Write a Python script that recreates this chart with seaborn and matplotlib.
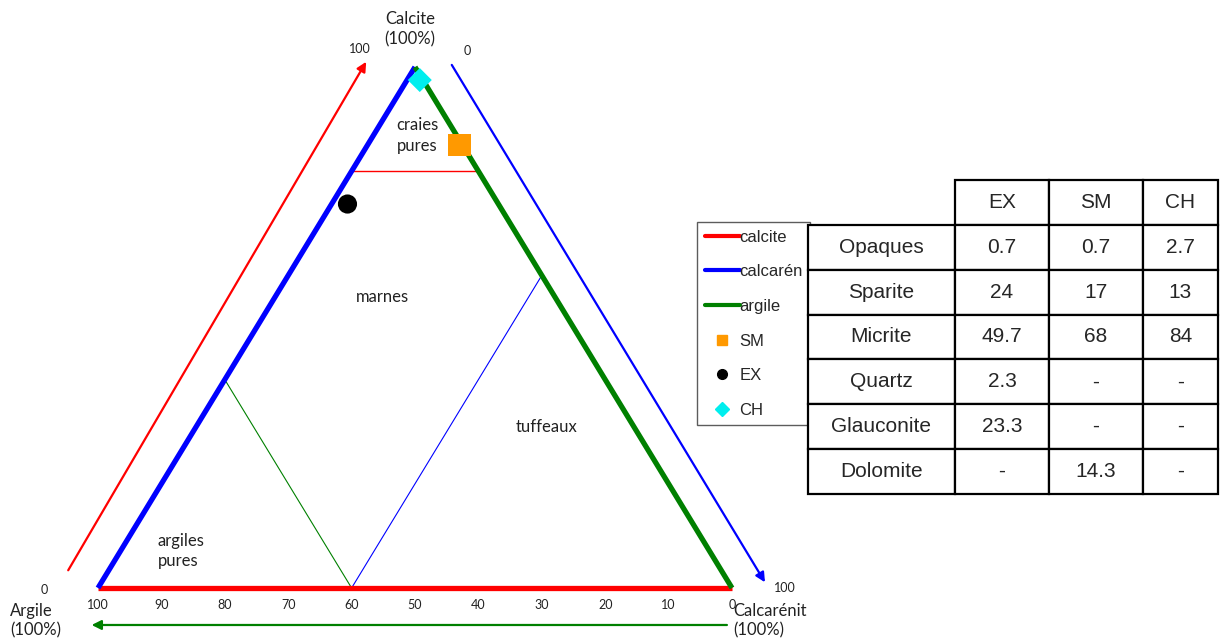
import matplotlib
matplotlib.use("Agg")
import matplotlib.pyplot as plt
from matplotlib.lines import Line2D
from matplotlib.table import Table
import seaborn as sns
import pandas as pd

# ---------------- data ----------------
samples = ["SM", "EX", "CH"]
sample_calcite = [85.0, 73.7, 97.5]       # % calcite
sample_calcarenite = [14.5, 2.5, 2.0]     # % calcarénite
sample_colors = ["#FF9900", "#000000", "#00EEEE"]
sample_markers = ["s", "o", "D"]
sample_sizes = [260, 190, 150]

edge_names = ["calcite", "calcarén", "argile"]
edge_colors = ["#FF0000", "#0000FF", "#008000"]

argile_ticks = [100, 90, 80, 70, 60, 50, 40, 30, 20, 10, 0]

limit_calcite = 80       # craies pures limit
limit_argile = 60        # green limit line
limit_calcarenite = 40   # blue limit line

table_cols = ["EX", "SM", "CH"]
table_rows = ["Opaques", "Sparite", "Micrite", "Quartz", "Glauconite", "Dolomite"]
col_EX = ["0.7", "24", "49.7", "2.3", "23.3", "-"]
col_SM = ["0.7", "17", "68", "-", "-", "14.3"]
col_CH = ["2.7", "13", "84", "-", "-", "-"]

# ---------------- helpers ----------------
def tern(calcite, calcarenite):
    """cartesian position: x = calcarénite + calcite/2, y = calcite"""
    return calcarenite + calcite / 2.0, calcite

sns.set_theme(style="white")
plt.rcParams["font.family"] = ["Lato", "DejaVu Sans"]

fig = plt.figure(figsize=(12.2, 6.43), dpi=100)
ax = fig.add_axes([0, 0, 1, 1])

# triangle vertices
A = tern(0, 0)      # argile 100%
C = tern(0, 100)    # calcarénite 100%
T = tern(100, 0)    # calcite 100%

# thick edges
ax.plot([A[0], C[0]], [A[1], C[1]], color=edge_colors[0], lw=3.8, solid_capstyle="butt", zorder=3)
ax.plot([A[0], T[0]], [A[1], T[1]], color=edge_colors[1], lw=3.8, solid_capstyle="butt", zorder=3)
ax.plot([T[0], C[0]], [T[1], C[1]], color=edge_colors[2], lw=3.8, solid_capstyle="butt", zorder=3)

# internal limit lines
p1 = tern(limit_calcite, 0)
p2 = tern(limit_calcite, 100 - limit_calcite)
ax.plot([p1[0], p2[0]], [p1[1], p2[1]], color="#FF0000", lw=1.0, zorder=2)
q1 = tern(100 - limit_argile, 0)
q2 = tern(0, 100 - limit_argile)
ax.plot([q1[0], q2[0]], [q1[1], q2[1]], color="#008000", lw=0.8, zorder=2)
r1 = tern(0, limit_calcarenite)
r2 = tern(100 - limit_calcarenite, limit_calcarenite)
ax.plot([r1[0], r2[0]], [r1[1], r2[1]], color="#0000FF", lw=0.8, zorder=2)

# arrows outside the triangle
arrow_kw = dict(arrowstyle="-|>", lw=1.6, mutation_scale=14, shrinkA=0, shrinkB=0)
ax.annotate("", xy=(42.3, 101.0), xytext=(-4.7, 3.4),
            arrowprops=dict(color="#FF0000", **arrow_kw))
ax.annotate("", xy=(105.2, 1.1), xytext=(55.8, 100.4),
            arrowprops=dict(color="#0000FF", **arrow_kw))
ax.annotate("", xy=(-1.0, -7.1), xytext=(99.2, -7.1),
            arrowprops=dict(color="#008000", **arrow_kw))

# sample points via seaborn
df = pd.DataFrame({"sample": samples,
                   "x": [tern(c, k)[0] for c, k in zip(sample_calcite, sample_calcarenite)],
                   "y": sample_calcite})
for s, col, mk, sz in zip(samples, sample_colors, sample_markers, sample_sizes):
    sns.scatterplot(data=df[df["sample"] == s], x="x", y="y", color=col, marker=mk,
                    s=sz, edgecolor="none", ax=ax, zorder=5, legend=False)
ax.set_xlim(-15.457, 176.97)
ax.set_ylim(-10.557, 112.86)
ax.axis("off")

# bottom tick labels (argile %)
for a in argile_ticks:
    ax.text(100 - a, -3.3, str(a), ha="center", va="center", fontsize=9, color="#222222")

# axis / region labels
txt = dict(color="#222222", fontsize=12)
ax.text(49.2, 107.2, "Calcite\n(100%)", ha="center", va="center", linespacing=1.3, **txt)
ax.text(41.3, 103.4, "100", ha="center", va="center", fontsize=9, color="#222222")
ax.text(58.2, 103.0, "0", ha="center", va="center", fontsize=9, color="#222222")
ax.text(-8.4, -0.4, "0", ha="center", va="center", fontsize=9, color="#222222")
ax.text(-13.9, -6.3, "Argile\n(100%)", ha="left", va="center", linespacing=1.3, **txt)
ax.text(108.4, 0.0, "100", ha="center", va="center", fontsize=9, color="#222222")
ax.text(100.2, -6.3, "Calcarénit\n(100%)", ha="left", va="center", linespacing=1.3, **txt)

ax.text(50.3, 86.9, "craies\npures", ha="center", va="center", linespacing=1.35, **txt)
ax.text(44.9, 55.8, "marnes", ha="center", va="center", **txt)
ax.text(70.7, 30.9, "tuffeaux", ha="center", va="center", **txt)
ax.text(9.4, 7.1, "argiles\npures", ha="left", va="center", linespacing=1.35, **txt)

# legend (inside main axes, so the table axes covers its right part)
handles = [Line2D([], [], color=c, lw=3) for c in edge_colors]
handles += [Line2D([], [], color=c, marker=m, ls="none", markersize=7)
            for c, m in zip(sample_colors, sample_markers)]
labels = edge_names + samples
leg = ax.legend(handles, labels, loc="upper left",
                bbox_to_anchor=(697 / 1220, 1 - 222 / 643),
                bbox_transform=fig.transFigure,
                frameon=True, fancybox=False, edgecolor="#333333",
                prop={"family": "Liberation Sans", "size": 12},
                labelspacing=1.18, handlelength=2.1, handletextpad=0.0,
                borderpad=0.45, borderaxespad=0)
leg.get_frame().set_linewidth(1.0)
leg.set_zorder(10)

# table
tax = fig.add_axes([808 / 1220, (643 - 494) / 643, 410 / 1220, 314 / 643])
tax.axis("off")
tab = Table(tax, bbox=[0, 0, 1, 1])
widths = [147 / 410, 94 / 410, 94 / 410, 75 / 410]
h = 1 / 7
for j, name in enumerate(table_cols):
    tab.add_cell(0, j + 1, widths[j + 1], h, text=name, loc="center")
columns = [col_EX, col_SM, col_CH]
for i, rname in enumerate(table_rows):
    tab.add_cell(i + 1, 0, widths[0], h, text=rname, loc="center")
    for j in range(3):
        tab.add_cell(i + 1, j + 1, widths[j + 1], h, text=columns[j][i], loc="center")
tab.auto_set_font_size(False)
tab.set_fontsize(15)
for cell in tab.get_celld().values():
    cell.set_linewidth(1.6)
    cell.set_edgecolor("black")
    cell.set_facecolor("white")
    cell.get_text().set_fontfamily("Liberation Sans")
tax.add_table(tab)

fig.savefig("out.png", dpi=100)
